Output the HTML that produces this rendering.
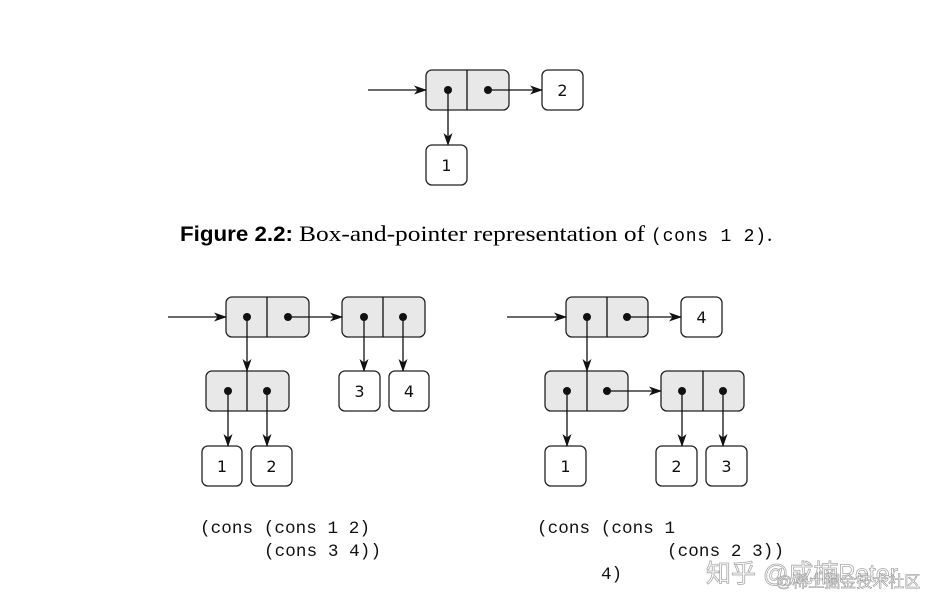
<!DOCTYPE html>
<html><head><meta charset="utf-8"><style>
html,body{margin:0;padding:0;background:#fff;width:952px;height:612px;overflow:hidden}
svg{display:block}
.p{fill:#e8e8e8;stroke:#222;stroke-width:1.3}
.b{fill:#fff;stroke:#222;stroke-width:1.3}
.l{stroke:#111;stroke-width:1.3;fill:none}
.n{font-family:"DejaVu Sans","Liberation Sans",sans-serif;font-size:16px;fill:#111;text-anchor:middle}
.m{font-family:"Liberation Mono",monospace;font-size:17.6px;fill:#111}
</style></head><body>
<svg width="952" height="612" viewBox="0 0 952 612" xmlns="http://www.w3.org/2000/svg">
<defs><marker id="a" markerWidth="13" markerHeight="9" refX="12" refY="4.5" orient="auto" markerUnits="userSpaceOnUse"><path d="M0,0 L13,4.5 L0,9 L3.5,4.5 Z" fill="#111"/></marker></defs>

<!-- Fig 1 -->
<rect class="p" x="426" y="70" width="83" height="40" rx="6"/><line class="l" x1="467" y1="70" x2="467" y2="110"/>
<rect class="b" x="542" y="70" width="41" height="40" rx="6"/><text class="n" x="562.5" y="96">2</text>
<rect class="b" x="426" y="145" width="41" height="40" rx="6"/><text class="n" x="446.5" y="171">1</text>
<line class="l" x1="368" y1="90" x2="426" y2="90" marker-end="url(#a)"/>
<line class="l" x1="488" y1="90" x2="542" y2="90" marker-end="url(#a)"/>
<line class="l" x1="448" y1="90" x2="448" y2="145" marker-end="url(#a)"/>
<circle cx="448" cy="90" r="4" fill="#111"/><circle cx="488" cy="90" r="4" fill="#111"/>

<text y="241" x="180" style="font-size:21px"><tspan font-family="'Liberation Sans',sans-serif" font-weight="bold" textLength="113" lengthAdjust="spacingAndGlyphs">Figure 2.2:</tspan><tspan x="299" font-family="'Liberation Serif',serif" font-size="22" textLength="346" lengthAdjust="spacingAndGlyphs">Box-and-pointer representation of</tspan><tspan x="651" font-family="'Liberation Mono',monospace" font-size="18" textLength="115" xml:space="preserve">(cons 1 2)</tspan><tspan x="767" font-family="'Liberation Serif',serif">.</tspan></text>

<!-- Left -->
<rect class="p" x="226" y="297" width="83" height="40" rx="6"/><line class="l" x1="267" y1="297" x2="267" y2="337"/>
<rect class="p" x="342" y="297" width="83" height="40" rx="6"/><line class="l" x1="383" y1="297" x2="383" y2="337"/>
<rect class="p" x="206" y="371" width="83" height="40" rx="6"/><line class="l" x1="247" y1="371" x2="247" y2="411"/>
<rect class="b" x="339" y="371" width="41" height="40" rx="6"/><text class="n" x="359.5" y="397">3</text>
<rect class="b" x="389" y="371" width="40" height="40" rx="6"/><text class="n" x="409" y="397">4</text>
<rect class="b" x="202" y="446" width="40" height="40" rx="6"/><text class="n" x="222" y="472">1</text>
<rect class="b" x="251" y="446" width="41" height="40" rx="6"/><text class="n" x="271.5" y="472">2</text>
<line class="l" x1="168" y1="317" x2="226" y2="317" marker-end="url(#a)"/>
<line class="l" x1="288" y1="317" x2="342" y2="317" marker-end="url(#a)"/>
<line class="l" x1="247" y1="317" x2="247" y2="371" marker-end="url(#a)"/>
<line class="l" x1="364" y1="317" x2="364" y2="371" marker-end="url(#a)"/>
<line class="l" x1="403" y1="317" x2="403" y2="371" marker-end="url(#a)"/>
<line class="l" x1="228" y1="391" x2="228" y2="446" marker-end="url(#a)"/>
<line class="l" x1="267" y1="391" x2="267" y2="446" marker-end="url(#a)"/>
<g fill="#111"><circle cx="247" cy="317" r="4"/><circle cx="288" cy="317" r="4"/><circle cx="364" cy="317" r="4"/><circle cx="403" cy="317" r="4"/><circle cx="228" cy="391" r="4"/><circle cx="267" cy="391" r="4"/></g>

<!-- Right -->
<rect class="p" x="566" y="297" width="82" height="40" rx="6"/><line class="l" x1="607" y1="297" x2="607" y2="337"/>
<rect class="b" x="681" y="297" width="41" height="40" rx="6"/><text class="n" x="701.5" y="323">4</text>
<rect class="p" x="545" y="371" width="83" height="40" rx="6"/><line class="l" x1="587" y1="371" x2="587" y2="411"/>
<rect class="p" x="661" y="371" width="83" height="40" rx="6"/><line class="l" x1="703" y1="371" x2="703" y2="411"/>
<rect class="b" x="545" y="446" width="41" height="40" rx="6"/><text class="n" x="565.5" y="472">1</text>
<rect class="b" x="656" y="446" width="41" height="40" rx="6"/><text class="n" x="676.5" y="472">2</text>
<rect class="b" x="706" y="446" width="41" height="40" rx="6"/><text class="n" x="726.5" y="472">3</text>
<line class="l" x1="507" y1="317" x2="566" y2="317" marker-end="url(#a)"/>
<line class="l" x1="627" y1="317" x2="681" y2="317" marker-end="url(#a)"/>
<line class="l" x1="587" y1="317" x2="587" y2="371" marker-end="url(#a)"/>
<line class="l" x1="607" y1="391" x2="661" y2="391" marker-end="url(#a)"/>
<line class="l" x1="567" y1="391" x2="567" y2="446" marker-end="url(#a)"/>
<line class="l" x1="682" y1="391" x2="682" y2="446" marker-end="url(#a)"/>
<line class="l" x1="723" y1="391" x2="723" y2="446" marker-end="url(#a)"/>
<g fill="#111"><circle cx="587" cy="317" r="4"/><circle cx="627" cy="317" r="4"/><circle cx="567" cy="391" r="4"/><circle cx="607" cy="391" r="4"/><circle cx="682" cy="391" r="4"/><circle cx="723" cy="391" r="4"/></g>

<!-- code -->
<g class="m" xml:space="preserve">
<text x="200" y="533" textLength="170">(cons (cons 1 2)</text>
<text x="264" y="556" textLength="117">(cons 3 4))</text>
<text x="537" y="533" textLength="138">(cons (cons 1</text>
<text x="667" y="556" textLength="117">(cons 2 3))</text>
<text x="601" y="579" textLength="21">4)</text>
</g>

<!-- watermark -->
<text x="706" y="582" font-family="'Liberation Sans','Noto Sans CJK SC',sans-serif" font-size="25" fill="#fff" stroke="#aaa" stroke-width="0.8">知乎 @成楠Peter</text>
<text x="776" y="587" font-family="'Liberation Sans','Noto Sans CJK SC',sans-serif" font-size="16" fill="#fff" stroke="#999" stroke-width="0.6">@稀土掘金技术社区</text>
</svg>
</body></html>
